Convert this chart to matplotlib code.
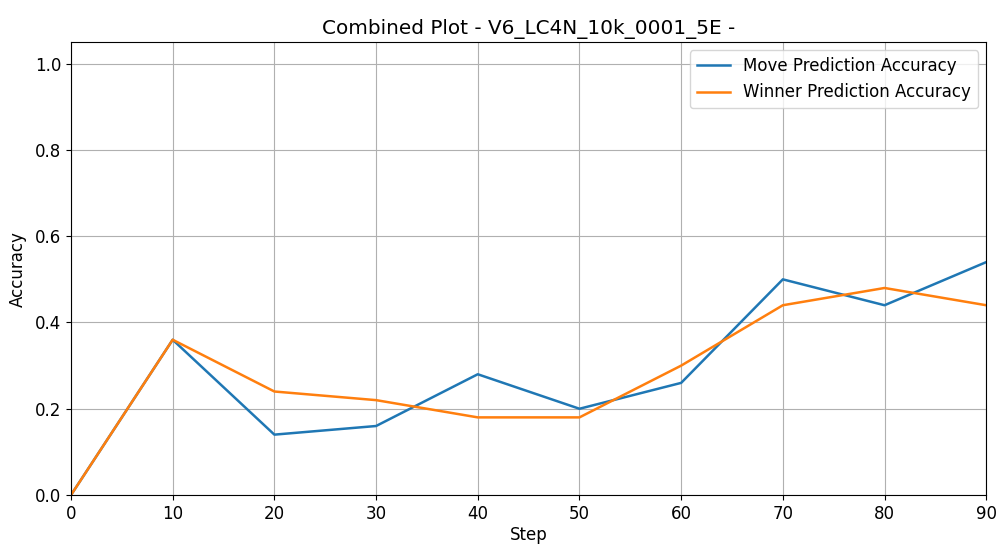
import matplotlib
matplotlib.use("Agg")
import matplotlib.pyplot as plt

steps = [0, 10, 20, 30, 40, 50, 60, 70, 80, 90]
move_acc = [0.0, 0.36, 0.14, 0.16, 0.28, 0.20, 0.26, 0.50, 0.44, 0.54]
winner_acc = [0.0, 0.36, 0.24, 0.22, 0.18, 0.18, 0.30, 0.44, 0.48, 0.44]
title = "Combined Plot - V6_LC4N_10k_0001_5E -"

plt.rcParams["font.size"] = 12

fig = plt.figure(figsize=(9.97, 5.45), dpi=100)
ax = fig.add_axes([0.0712, 0.0917, 0.918, 0.831])
ax.plot(steps, move_acc, color="tab:blue", lw=1.8, label="Move Prediction Accuracy")
ax.plot(steps, winner_acc, color="tab:orange", lw=1.8, label="Winner Prediction Accuracy")
ax.set_xlim(0, 90)
ax.set_ylim(0, 1.05)
ax.set_xticks(steps)
ax.set_xlabel("Step", labelpad=2)
ax.set_ylabel("Accuracy", labelpad=6)
ax.set_title(title, pad=6)
ax.grid(True)
ax.legend(loc="upper right")
fig.savefig("out.png", dpi=100)
